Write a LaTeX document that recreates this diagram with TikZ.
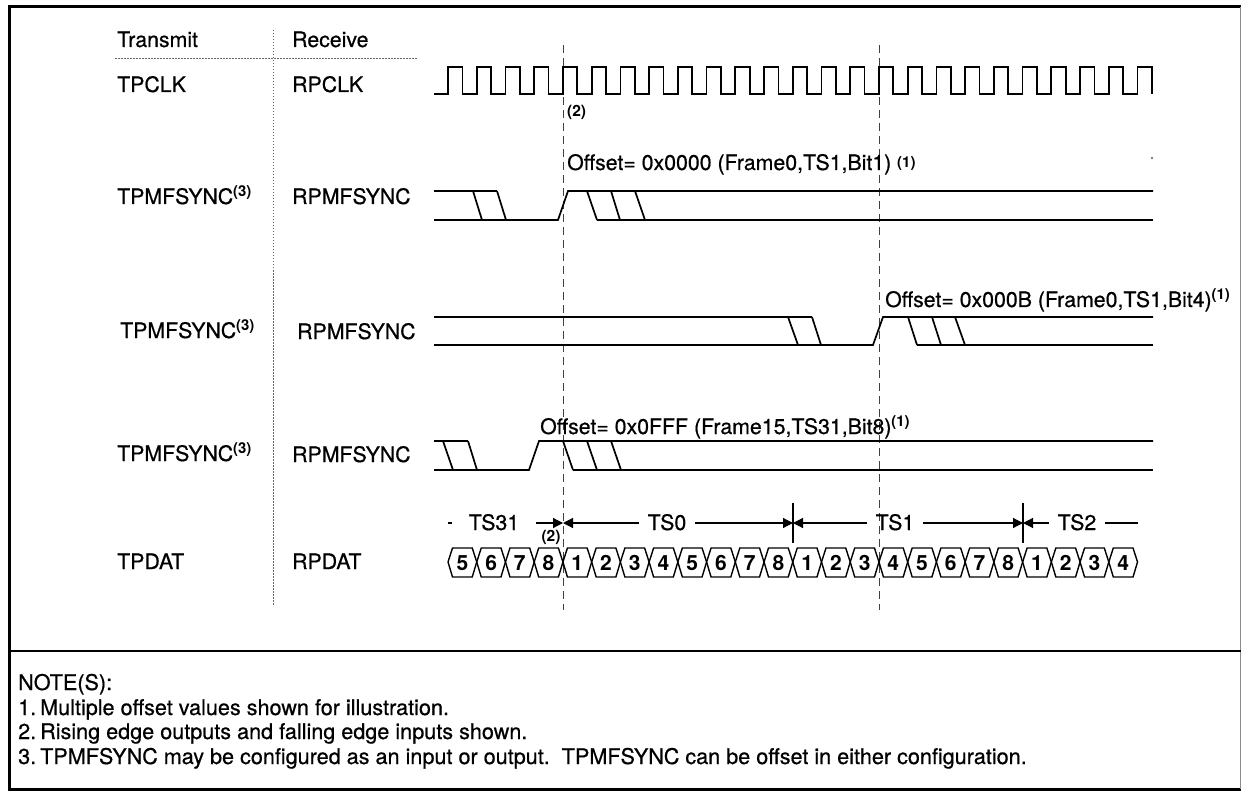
\documentclass[tikz,border=0pt]{standalone}
\usepackage{fontspec}
\setmainfont{TeX Gyre Heros}[UprightFeatures={FakeBold=0.6}]
\usetikzlibrary{arrows.meta}
\begin{document}
\begin{tikzpicture}[x=1pt,y=-1pt,
  sig/.style={line width=1.7pt, line join=miter, line cap=butt},
  bus/.style={line width=1.4pt, line join=miter},
  lbl/.style={anchor=base west, inner sep=0pt, font=\fontsize{21.3}{25}\selectfont},
  notetxt/.style={anchor=base west, inner sep=0pt, font=\fontsize{21.6}{25}\selectfont},
  small2/.style={anchor=base west, inner sep=0pt, font=\fontsize{15.5}{18}\selectfont\bfseries},
  digit/.style={inner sep=0pt, font=\fontsize{21}{24}\selectfont\bfseries},
  tslbl/.style={anchor=base, inner xsep=9pt, inner ysep=0pt, font=\fontsize{21.3}{25}\selectfont},
  arr/.style={line width=1.2pt, -{Triangle[length=10pt,width=10pt]}},
  plain/.style={line width=1.2pt},
  dashln/.style={line width=1pt, black!75, dash pattern=on 8pt off 5pt},
  dotln/.style={line width=0.8pt, black!60, dash pattern=on 1.5pt off 1.5pt},
  frame/.style={line width=3pt}]
\useasboundingbox (0,0) rectangle (1241,791);

% frame
\draw[frame] (1241,7) -- (9,7) -- (9,789) -- (1241,789);
\draw[line width=1pt, black!45] (1240,7) -- (1240,789);
\draw[line width=2.5pt] (9,651) -- (1241,651);

% header separators
\draw[dotln] (115,58) -- (418,58);
\draw[dotln] (273,30) -- (273,605);

% labels
\node[lbl] (tx) at (117,47) {Transmit};
\node[lbl] (rx) at (292,47) {Receive};
\node[lbl] (tpclk) at (117,92) {TPCLK};
\node[lbl] (rpclk) at (292,92) {RPCLK};
\node[lbl] (tpm1) at (117,204) {TPMFSYNC\textsuperscript{\bfseries(3)}};
\node[lbl] (rpm1) at (292,204) {RPMFSYNC};
\node[lbl] (tpm2) at (120,338) {TPMFSYNC\textsuperscript{\bfseries(3)}};
\node[lbl] (rpm2) at (297,339) {RPMFSYNC};
\node[lbl] (tpm3) at (117,461) {TPMFSYNC\textsuperscript{\bfseries(3)}};
\node[lbl] (rpm3) at (292,462) {RPMFSYNC};
\node[lbl] (tpdat) at (117,569) {TPDAT};
\node[lbl] (rpdat) at (292,569) {RPDAT};

% dashed reference lines
\draw[dashln] (563,45) -- (563,610);
\draw[dashln] (879,45) -- (879,610);

% clock
\draw[sig] (434,94) \foreach \k in {0,...,24} {
  -- ({448+\k*28.73},94) -- ({448+\k*28.73},67)
  -- ({448+(\k+0.5)*28.73},67) -- ({448+(\k+0.5)*28.73},94) };
\node[small2] (n2a) at (567,117) {(2)};

% MFSYNC row 1
\draw[sig] (434,191) -- (497,191);
\draw[sig] (434,220) -- (558,220) -- (568,191) -- (1153,191);
\draw[sig] (473,191) -- (482,220);
\draw[sig] (497,191) -- (506,220);
\draw[sig] (587,191) -- (597,220);
\draw[sig] (611,191) -- (620,220);
\draw[sig] (635,191) -- (645,220);
\draw[sig] (597,220) -- (1153,220);
\node[lbl] (off1) at (567,170) {Offset= 0x0000 (Frame0,TS1,Bit1) \raisebox{2pt}{\fontsize{15}{17}\selectfont\bfseries(1)}};
\fill (1152,158) circle (0.9pt);

% MFSYNC row 2
\draw[sig] (434,317) -- (812,317);
\draw[sig] (434,345) -- (873,345) -- (883,317) -- (1153,317);
\draw[sig] (788,317) -- (798,345);
\draw[sig] (812,317) -- (821,345);
\draw[sig] (908,317) -- (917,345);
\draw[sig] (932,317) -- (941,345);
\draw[sig] (955,317) -- (965,345);
\draw[sig] (917,345) -- (1153,345);
\node[lbl] (off2) at (885,307) {Offset= 0x000B (Frame0,TS1,Bit4)\textsuperscript{\bfseries(1)}};

% MFSYNC row 3
\draw[sig] (434,441) -- (468,441);
\draw[sig] (443,441) -- (453,470);
\draw[sig] (468,441) -- (477,470);
\draw[sig] (434,470) -- (529,470) -- (539,441) -- (1153,441);
\draw[sig] (563,441) -- (573,470);
\draw[sig] (587,441) -- (597,470);
\draw[sig] (611,441) -- (621,470);
\draw[sig] (573,470) -- (1153,470);
\node[lbl] (off3) at (540,434) {Offset= 0x0FFF (Frame15,TS31,Bit8)\textsuperscript{\bfseries(1)}};

% data bus
\foreach \k in {0,...,23} {
  \pgfmathsetmacro\xa{448+\k*28.73}
  \pgfmathsetmacro\xb{448+(\k+1)*28.73}
  \pgfmathtruncatemacro\dd{mod(\k+4,8)+1}
  \draw[bus] (\xa,562) -- (\xa+4.5,548) -- (\xb-4.5,548) -- (\xb,562) -- (\xb-4.5,577) -- (\xa+4.5,577) -- cycle;
  \node[digit] (c\k) at ({(\xa+\xb)/2},563) {\dd};
}

% time slot markers
\coordinate (bA) at (563,523);
\coordinate (bB) at (793,523);
\coordinate (bC) at (1023,523);
\coordinate (bBt) at (793,503);
\coordinate (bBb) at (793,543);
\coordinate (bCt) at (1023,503);
\coordinate (bCb) at (1023,543);
\coordinate (dA) at (448,523);
\coordinate (dB) at (452,523);
\coordinate (ts2end) at (1138,523);
\node[tslbl] (ts31) at (494,530) {TS31};
\node[tslbl] (ts0) at (667,530) {TS0};
\node[tslbl] (ts1) at (895,530) {TS1};
\node[tslbl] (ts2) at (1077,530) {TS2};
\draw[plain] (dA) -- (dB);
\draw[arr, shorten <=8pt] (ts31.east |- bA) -- (bA);
\draw[arr] (ts0.west |- bA) -- (bA);
\draw[arr] (ts0.east |- bB) -- (bB);
\draw[plain] (bBt) -- (bBb);
\draw[arr] (ts1.west |- bB) -- (bB);
\draw[arr] (ts1.east |- bC) -- (bC);
\draw[plain] (bCt) -- (bCb);
\draw[arr] (ts2.west |- bC) -- (bC);
\draw[plain] (ts2.east |- ts2end) -- (ts2end);
\node[small2, anchor=center] (n2b) at (551,537) {(2)};

% notes
\node[notetxt] (nh) at (18,690) {NOTE(S):};
\node[notetxt] (n1) at (18,715) {\makebox[22pt][l]{1.}Multiple offset values shown for illustration.};
\node[notetxt] (n2) at (18,739) {\makebox[22pt][l]{2.}Rising edge outputs and falling edge inputs shown.};
\node[notetxt] (n3) at (18,764) {\makebox[22pt][l]{3.}TPMFSYNC may be configured as an input or output.\ \ TPMFSYNC can be offset in either configuration.};
\end{tikzpicture}
\end{document}
